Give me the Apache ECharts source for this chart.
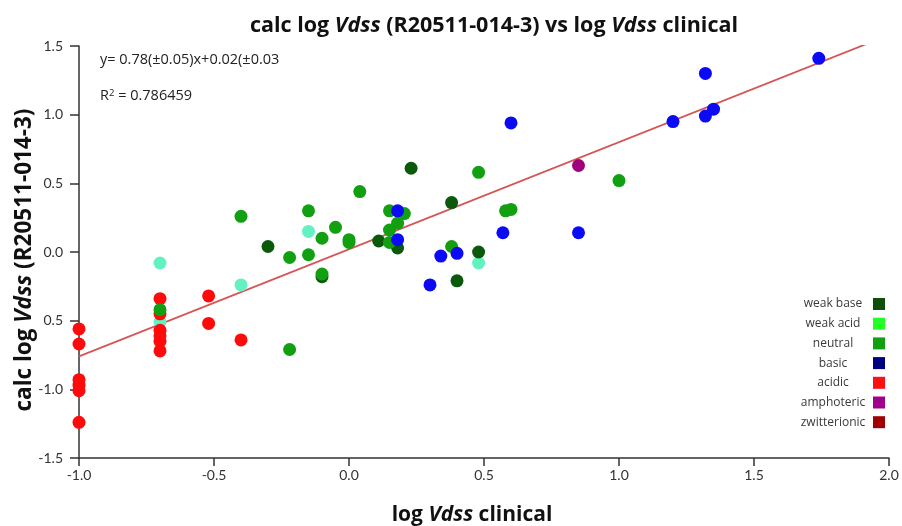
<!DOCTYPE html>
<html>
<head>
<meta charset="utf-8">
<title>calc log Vdss vs log Vdss clinical</title>
<script src="https://cdn.jsdelivr.net/npm/echarts@6/dist/echarts.min.js"></script>
<style>
  html, body { margin: 0; padding: 0; background: #ffffff; }
  #chart { width: 902px; height: 526px; }
</style>
</head>
<body>
<div id="chart"></div>
<script>
// Compound classes and their [log Vdss clinical, calc log Vdss] pairs
const categories = ['weak base', 'weak acid', 'neutral', 'basic', 'acidic', 'amphoteric', 'zwitterionic'];

const weakBase = [
  [-0.30, 0.04], [-0.10, -0.18], [0.11, 0.08], [0.18, 0.03], [0.23, 0.61],
  [0.38, 0.36], [0.40, -0.21], [0.48, 0.00]
];
const weakAcid = [
  [-0.70, -0.08], [-0.70, -0.51], [-0.40, -0.24], [-0.15, 0.15], [0.48, -0.08]
];
const neutral = [
  [-0.70, -0.42], [-0.40, 0.26], [-0.22, -0.04], [-0.22, -0.71], [-0.15, 0.30],
  [-0.15, -0.02], [-0.10, 0.10], [-0.10, -0.16], [-0.05, 0.18], [0.00, 0.09],
  [0.00, 0.07], [0.04, 0.44], [0.15, 0.30], [0.15, 0.16], [0.15, 0.07],
  [0.18, 0.21], [0.205, 0.28], [0.38, 0.04], [0.48, 0.58], [0.58, 0.30],
  [0.60, 0.31], [1.00, 0.52]
];
const basic = [
  [0.18, 0.30], [0.18, 0.09], [0.30, -0.24], [0.34, -0.03], [0.40, -0.01],
  [0.57, 0.14], [0.60, 0.94], [0.85, 0.14], [1.20, 0.95], [1.32, 0.99],
  [1.35, 1.04], [1.32, 1.30], [1.74, 1.41]
];
const acidic = [
  [-1.00, -0.56], [-1.00, -0.67], [-1.00, -0.93], [-1.00, -0.97], [-1.00, -1.01],
  [-1.00, -1.24], [-0.70, -0.34], [-0.70, -0.45], [-0.70, -0.57], [-0.70, -0.61],
  [-0.70, -0.65], [-0.70, -0.72], [-0.52, -0.32], [-0.52, -0.52], [-0.40, -0.64]
];
const amphoteric = [[0.85, 0.63]];
const zwitterionic = [];

// Linear fit reported on the chart
const fitSlope = 0.78;
const fitIntercept = 0.02;
const fitSlopeErr = 0.05;
const fitInterceptErr = 0.03;
const rSquared = '0.786459';
const fitRange = [-1.0, 2.0];

// Axis tick labels
const xTickValues = [-1.0, -0.5, 0.0, 0.5, 1.0, 1.5, 2.0];
const xTickLabels = ['-1.0', '-0.5', '0.0', '0.5', '1.0', '1.5', '2.0'];
const yTickValues = [-1.5, -1.0, -0.5, 0.0, 0.5, 1.0, 1.5];
const yTickLabels = ['-1.5', '-1.0', '0.5', '0.0', '0.5', '1.0', '1.5'];

const seriesData = {
  'weak base': weakBase,
  'weak acid': weakAcid,
  'neutral': neutral,
  'basic': basic,
  'acidic': acidic,
  'amphoteric': amphoteric,
  'zwitterionic': zwitterionic
};

// Marker colours and legend swatch colours
const markerColors = {
  'weak base': '#0b5a0b',
  'weak acid': '#62f2c2',
  'neutral': '#12a012',
  'basic': '#0a0af5',
  'acidic': '#ff0a0a',
  'amphoteric': '#a0007e',
  'zwitterionic': '#a00000'
};
const swatchColors = {
  'weak base': '#0b4f0b',
  'weak acid': '#22ff22',
  'neutral': '#10a010',
  'basic': '#000080',
  'acidic': '#ff1010',
  'amphoteric': '#a0008c',
  'zwitterionic': '#a00000'
};
// Stacking order of the marker layers
const layerOrder = {
  'weak acid': 3, 'acidic': 4, 'weak base': 5, 'neutral': 6,
  'basic': 7, 'amphoteric': 8, 'zwitterionic': 8
};

const FONT = '"Open Sans", Lato, sans-serif';
const TICK_FONT = 'Lato, "Open Sans", sans-serif';

function labelFor(values, labels) {
  return function (v) {
    for (let i = 0; i < values.length; i++) {
      if (Math.abs(values[i] - v) < 1e-6) return labels[i];
    }
    return '';
  };
}

const fitLine = fitRange.map(x => [x, fitSlope * x + fitIntercept]);

const scatterSeries = categories.map(name => ({
  name: name,
  type: 'scatter',
  data: seriesData[name],
  symbol: 'circle',
  symbolSize: 13,
  z: layerOrder[name],
  itemStyle: { color: markerColors[name], opacity: 1 },
  emphasis: { disabled: true }
}));

const chart = echarts.init(document.getElementById('chart'), null, { renderer: 'canvas' });

chart.setOption({
  animation: false,
  backgroundColor: '#ffffff',
  title: {
    text: 'calc log {i|Vdss} (R20511-014-3) vs log {i|Vdss} clinical',
    left: 245,
    top: 10,
    textStyle: {
      fontFamily: FONT,
      fontSize: 21.5,
      fontWeight: 'bold',
      color: '#111111',
      rich: {
        i: { fontFamily: FONT, fontSize: 21.5, fontWeight: 'bold', fontStyle: 'italic', color: '#111111' }
      }
    }
  },
  grid: { left: 79, right: 13, top: 46, bottom: 68, containLabel: false, outerBoundsMode: 'none' },
  legend: {
    orient: 'vertical',
    right: 12,
    top: 293,
    align: 'right',
    itemWidth: 12,
    itemHeight: 12,
    itemGap: 7.7,
    selectedMode: false,
    data: categories.map(name => ({
      name: name,
      icon: 'rect',
      itemStyle: { color: swatchColors[name] }
    })),
    formatter: '{c|{name}}',
    textStyle: {
      fontFamily: FONT,
      fontSize: 12,
      color: '#3a3a3a',
      lineHeight: 12,
      rich: {
        c: { width: 70, align: 'center', fontFamily: FONT, fontSize: 12, color: '#3a3a3a', lineHeight: 12 }
      }
    }
  },
  xAxis: {
    type: 'value',
    min: -1.0,
    max: 2.0,
    interval: 0.5,
    name: 'log {i|Vdss} clinical',
    nameLocation: 'middle',
    nameGap: 47,
    nameTextStyle: {
      fontFamily: FONT, fontSize: 21, fontWeight: 'bold', color: '#111111',
      padding: [0, 24, 0, 0],
      rich: { i: { fontFamily: FONT, fontSize: 21, fontWeight: 'bold', fontStyle: 'italic', color: '#111111' } }
    },
    axisLine: { show: true, onZero: false, lineStyle: { color: '#333333', width: 1.5 } },
    axisTick: { show: true, inside: false, length: 8, lineStyle: { color: '#333333', width: 1.5 } },
    axisLabel: {
      margin: 10,
      fontFamily: TICK_FONT, fontSize: 14, color: '#333333',
      formatter: labelFor(xTickValues, xTickLabels)
    },
    splitLine: { show: false }
  },
  yAxis: {
    type: 'value',
    min: -1.5,
    max: 1.5,
    interval: 0.5,
    name: 'calc log {i|Vdss} (R20511-014-3)',
    nameLocation: 'middle',
    nameGap: 43,
    nameMoveOverlap: false,
    nameRotate: 90,
    nameTextStyle: {
      fontFamily: FONT, fontSize: 22.5, fontWeight: 'bold', color: '#111111',
      padding: [0, 16, 0, 0],
      rich: { i: { fontFamily: FONT, fontSize: 22.5, fontWeight: 'bold', fontStyle: 'italic', color: '#111111' } }
    },
    axisLine: { show: true, onZero: false, lineStyle: { color: '#333333', width: 1.5 } },
    axisTick: { show: true, inside: false, length: 9, lineStyle: { color: '#333333', width: 1.5 } },
    axisLabel: {
      margin: 16,
      fontFamily: TICK_FONT, fontSize: 14, color: '#333333',
      formatter: labelFor(yTickValues, yTickLabels)
    },
    splitLine: { show: false }
  },
  graphic: [
    {
      type: 'text',
      left: 100,
      top: 52,
      z: 20,
      style: {
        text: 'y= ' + fitSlope + '(±' + fitSlopeErr + ')x+' + fitIntercept + '(±' + fitInterceptErr,
        font: '14.5px ' + FONT,
        fill: '#222222'
      }
    },
    {
      type: 'text',
      left: 100,
      top: 88,
      z: 20,
      style: {
        text: 'R{sup|2} = ' + rSquared,
        font: '14.5px ' + FONT,
        fill: '#222222',
        rich: {
          sup: { fontSize: 9.5, verticalAlign: 'top', fontFamily: FONT, fill: '#222222', padding: [0, 0, 6, 0] }
        }
      }
    }
  ],
  series: [
    {
      name: 'fit',
      type: 'line',
      data: fitLine,
      symbol: 'none',
      clip: true,
      z: 1,
      lineStyle: { color: '#d45656', width: 1.8 },
      emphasis: { disabled: true },
      silent: true
    }
  ].concat(scatterSeries)
});
</script>
</body>
</html>
